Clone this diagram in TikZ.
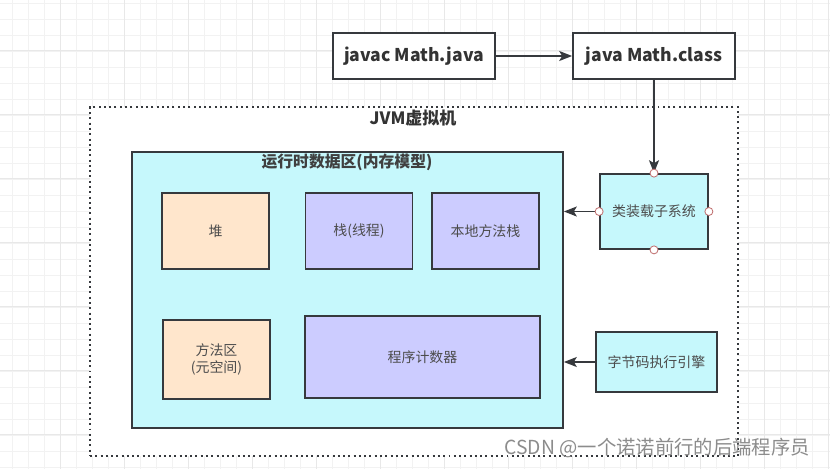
\documentclass[tikz,border=0pt]{standalone}
\usepackage{fontspec}
\setmainfont{Noto Sans CJK SC}
\usepackage{tikz}
\usetikzlibrary{arrows.meta}
\definecolor{edge}{HTML}{36393D}
\definecolor{areafill}{HTML}{C6F8FC}
\definecolor{heapfill}{HTML}{FFE6CC}
\definecolor{stackfill}{HTML}{CCCCFF}
\definecolor{gridline}{HTML}{F2F2F2}
\definecolor{gridmajor}{HTML}{E8E8E8}
\definecolor{handle}{HTML}{C07070}
\newlength\pxu
\setlength\pxu{0.03cm}

\begin{document}
\begin{tikzpicture}[x=0.03cm,y=-0.03cm,
    box/.style={draw=edge,line width=1.5pt,minimum width=#1\pxu,
        align=center,text=black!70,font=\fontsize{11.9}{15}\selectfont},
    cmdbox/.style={draw=edge,line width=1.5pt,fill=white,
        minimum width=162\pxu,minimum height=46\pxu,
        font=\bfseries\fontsize{15}{18}\selectfont,text=black!80},
    heapbox/.style={box=107,fill=heapfill},
    stackbox/.style={box=107,fill=stackfill},
    arr/.style={-{Stealth[length=11pt,width=8.5pt,inset=2.5pt]},line width=1.5pt,draw=edge},
    grip/.style={circle,draw=handle,fill=white,line width=0.7pt,inner sep=0pt,minimum size=8\pxu}]
\useasboundingbox (0,0) rectangle (830,469);
\fill[white] (0,0) rectangle (830,469);
\foreach \k in {0,...,51}
    \draw[gridline,line width=0.6pt] (12.3+16*\k,0) -- (12.3+16*\k,469);
\foreach \k in {0,...,29}
    \draw[gridline,line width=0.6pt] (0,3.3+16*\k) -- (830,3.3+16*\k);
\foreach \k in {0,...,12}
    \draw[gridmajor,line width=0.6pt] (60+64*\k,0) -- (60+64*\k,469);
\foreach \k in {0,...,6}
    \draw[gridmajor,line width=0.6pt] (0,50.7+64*\k) -- (830,50.7+64*\k);

\node[cmdbox] (javac) at (414,56) {javac Math.java};
\node[cmdbox] (javarun) at (654,56) {java Math.class};

\node[draw=edge,fill=white,line width=1.7pt,dash pattern=on 1.7pt off 2.8pt,
    minimum width=648\pxu,minimum height=349\pxu] (jvm) at (414,281.5) {};
\node[font=\bfseries\fontsize{14.5}{17}\selectfont,text=black!80] (jvmtitle) at (413,118) {JVM虚拟机};

\node[box=431,minimum height=276\pxu,fill=areafill] (rda) at (347.5,290) {};
\node[font=\bfseries\fontsize{13.5}{16}\selectfont,text=black!75] (rdatitle) at (347,162) {运行时数据区(内存模型)};

\node[heapbox,minimum height=76\pxu] (heap) at (215.5,231) {堆};
\node[stackbox,minimum height=76\pxu] (stack) at (359,231) {栈(线程)};
\node[stackbox,minimum height=76\pxu] (native) at (485.5,231) {本地方法栈};
\node[heapbox,minimum height=79\pxu] (method) at (216.5,359.5) {方法区\\(元空间)};
\node[box=235,minimum height=82\pxu,fill=stackfill] (pc) at (422.5,357) {程序计数器};

\node[box=108,minimum height=75\pxu,fill=areafill] (loader) at (654,211.5) {类装载子系统};
\node[box=121,minimum height=60\pxu,fill=areafill] (engine) at (656.5,362) {字节码执行引擎};

\draw[arr] (javac) -- (javarun);
\draw[arr] (javarun) -- (loader);
\draw[arr] (loader.west) -- (rda.east |- loader.west);
\draw[arr] (engine.west) -- (rda.east |- engine.west);

\node[grip] (gtop) at (loader.north) {};
\node[grip] (gbot) at (loader.south) {};
\node[grip] (gleft) at (loader.west) {};
\node[grip] (gright) at (loader.east) {};

\node[anchor=east,text=black!45,font=\fontsize{16.5}{19}\selectfont] (mark) at (814,448) {CSDN @一个诺诺前行的后端程序员};
\end{tikzpicture}
\end{document}
